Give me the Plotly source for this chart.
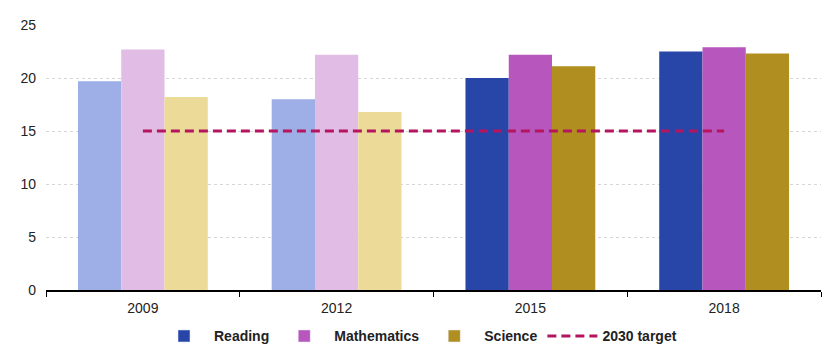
import plotly.graph_objects as go

years = ["2009", "2012", "2015", "2018"]
reading = [19.7, 18.0, 20.0, 22.5]
mathematics = [22.7, 22.2, 22.2, 22.9]
science = [18.2, 16.8, 21.1, 22.3]
target = [15, 15, 15, 15]

series = [
    ("Reading", reading, "#2845a8", "#9dafe6"),
    ("Mathematics", mathematics, "#b757bd", "#e1bce4"),
    ("Science", science, "#b08f20", "#ecdb98"),
]
faded_years = {"2009", "2012"}

fig = go.Figure()
for name, vals, full, faded in series:
    colors = [faded if y in faded_years else full for y in years]
    fig.add_trace(go.Bar(x=years, y=vals, name=name, offsetgroup=name,
                         marker=dict(color=colors, line=dict(width=0)),
                         showlegend=False, hoverinfo="x+y"))
    fig.add_trace(go.Bar(x=[years[0]], y=[None], name=name, offsetgroup=name,
                         marker=dict(color=full), showlegend=True))

fig.add_trace(go.Scatter(x=years, y=target, name="2030 target", mode="lines",
                         line=dict(color="#b5155f", width=3, dash="9px,5px")))

fig.update_layout(
    width=836, height=345,
    margin=dict(l=46, r=15, t=25, b=55, autoexpand=False),
    paper_bgcolor="white", plot_bgcolor="white",
    barmode="group", bargap=0.33, bargroupgap=0,
    font=dict(family="Liberation Sans, Arial, sans-serif", size=14, color="#222"),
    legend=dict(orientation="h", x=0.5, xanchor="center", xref="container",
                y=0.025, yanchor="middle", yref="container",
                font=dict(size=14, color="#222", weight="bold"),
                itemwidth=50, traceorder="normal"),
    showlegend=True,
)
fig.update_xaxes(type="category", tickson="boundaries", ticks="outside", ticklen=5,
                 tickcolor="black", showline=True, linecolor="black", linewidth=1.5,
                 showgrid=False, ticklabelstandoff=4,
                 tickfont=dict(size=14, color="#222"))
fig.update_yaxes(range=[0, 25], dtick=5, showgrid=True, gridcolor="#d6d6d6",
                 griddash="dot", gridwidth=1, zeroline=False, showline=False,
                 ticks="", ticklabelstandoff=9, tickfont=dict(size=14, color="#222"))

fig.write_html("out.html")
